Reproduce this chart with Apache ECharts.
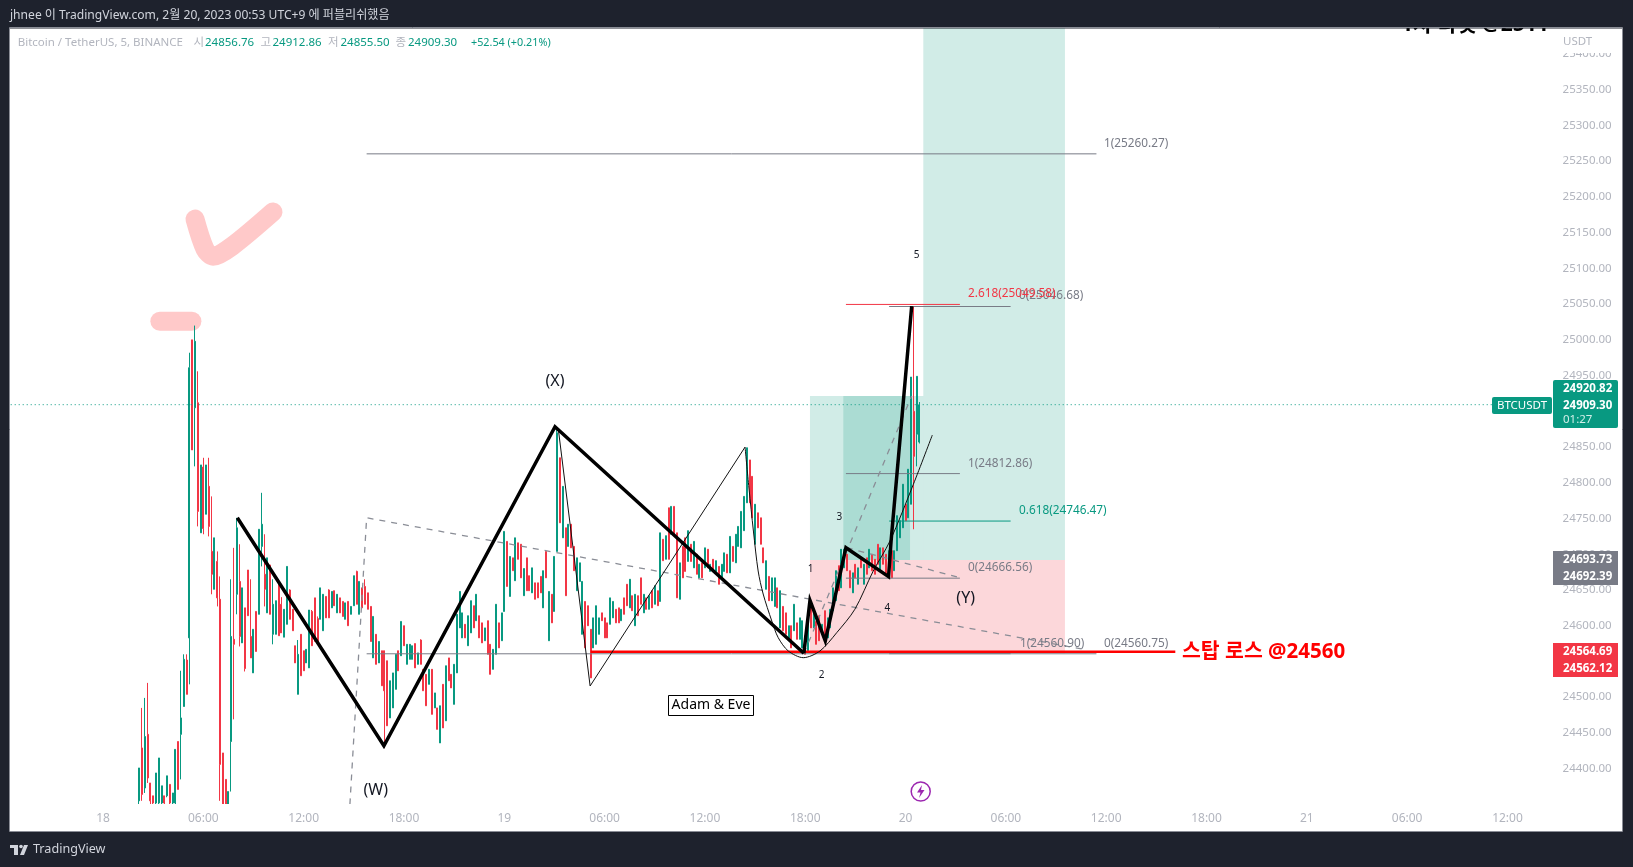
<!DOCTYPE html>
<html><head><meta charset="utf-8">
<style>html,body{margin:0;padding:0;background:#1e222d}#c{width:1633px;height:867px}</style>
<script src="https://cdn.jsdelivr.net/npm/echarts@6/dist/echarts.min.js"></script>
</head><body><div id="c"></div>
<script>
// candles: [open, close, low, high] as offset from priceBase (10-minute spacing)
const priceBase = 24000, firstBarMinute = 130, barStepMinutes = 10;
const candlesFeb18Morning = [
[355,401,350,401],[429,364,355,485],[373,445,366,499],[448,387,380,520],[380,355,350,380],[362,352,350,362],[352,394,350,394],[352,415,350,415],[352,376,350,376],[362,352,350,362],
[362,390,360,390],[378,352,350,378],[352,366,350,366],[352,427,350,427],[438,371,371,438],[448,471,385,537],[487,553,487,560],[552,504,504,560],[583,961,518,982],[1000,846,846,1000],
[905,998,823,1020],[912,760,739,956],[730,825,730,825],[822,736,728,835],[756,825,756,825],[795,739,725,835],[704,672,644,781],[651,723,651,723],[690,639,627,704],[637,406,355,669],
[422,350,350,422],[385,350,350,385],[350,368,350,368],[438,585,368,665],[581,574,469,709],[644,737,616,751],[662,585,571,714],[576,653,576,653],[625,540,536,625],[678,614,614,678],
[585,555,555,665],[534,595,534,595],[620,564,564,620],[616,735,616,735],[711,742,683,786],[672,651,627,728],[618,695,618,695],[685,616,616,685]];
const candlesFeb18Midday = [
[588,630,574,665],[588,635,588,635],[660,586,586,660],[630,590,590,640],[584,623,584,623],[602,683,602,683],[650,609,609,651],[623,593,593,623],[572,548,548,572],[504,560,504,580],
[588,530,530,588],[565,537,537,565],[548,567,548,567],[541,622,541,622],[620,572,572,622],[639,578,578,639],[610,578,578,613],[609,653,609,653],[593,644,593,644],[641,611,611,641],
[650,611,611,651],[625,648,625,648],[649,628,628,649],[618,644,618,644],[639,618,618,639],[634,613,613,634],[609,632,609,632],[634,600,600,634],[616,627,616,627],[628,670,628,670],
[676,630,630,677],[616,662,616,662],[653,625,625,653],[655,630,630,665],[646,623,623,646],[627,578,578,627],[555,613,555,613],[588,546,546,588],[548,578,548,578],[565,516,516,565],
[565,509,429,565],[551,460,460,551],[471,523,471,523],[485,534,485,534],[511,560,511,560],[565,537,537,565],[558,606,558,606],[600,572,572,600]];
const candlesFeb18Night = [
[546,574,546,574],[553,574,553,574],[553,572,553,572],[575,541,541,575],[546,562,546,562],[580,546,546,581],[539,509,509,539],[532,488,488,532],[518,539,518,539],[539,476,476,539],
[485,506,485,506],[485,455,455,485],[436,488,436,488],[518,457,457,518],[467,544,467,544],[555,523,523,555],[532,513,513,532],[490,546,490,546],[534,616,534,616],[597,648,597,648],
[583,618,583,618],[602,583,583,602],[572,614,572,614],[590,635,590,635],[628,597,597,628],[607,644,607,644],[614,583,583,614],[604,576,576,604],[579,597,579,597],[607,560,560,607],
[574,532,532,574],[539,567,539,567],[560,630,560,630],[604,569,569,604],[579,618,579,618],[620,732,620,732],[718,655,655,718],[641,697,641,697],[695,677,677,695],[663,723,663,723],
[716,693,693,716],[714,667,667,714],[642,680,642,680],[695,649,649,695],[670,649,649,670],[646,681,646,681],[660,637,637,660],[660,639,639,660]];
const candlesFeb19Morning = [
[669,646,646,669],[625,677,625,677],[704,667,667,704],[579,648,579,648],[644,604,604,644],[620,697,620,697],[704,870,704,877],[835,744,744,835],[723,795,723,795],[737,642,642,737],
[711,742,711,742],[742,709,709,742],[711,677,677,711],[649,695,649,695],[662,688,662,688],[588,662,588,662],[634,569,569,634],[628,600,600,628],[595,527,527,595],[569,611,569,611],
[574,628,574,628],[588,611,588,611],[618,607,607,618],[611,583,583,611],[604,583,583,604],[602,639,602,639],[611,634,611,634],[623,604,604,623],[625,604,604,625],[607,623,607,623],
[639,616,616,639],[658,628,628,658],[625,665,625,665],[642,621,621,642],[600,644,600,644],[642,614,614,642],[667,630,630,667],[618,644,618,644],[639,623,623,639],[623,642,623,642],
[649,625,625,649],[630,656,630,656],[649,628,628,649],[634,730,634,730],[721,691,691,721],[693,726,693,726],[765,693,693,765],[728,767,728,767]];
const candlesFeb19Afternoon = [
[767,728,728,767],[730,639,639,730],[637,688,637,688],[711,667,667,711],[723,676,676,723],[690,733,690,733],[714,690,690,714],[681,718,681,718],[700,672,672,700],[667,686,667,686],
[688,667,667,688],[681,709,681,709],[707,681,681,707],[676,686,676,686],[693,676,676,693],[676,691,676,691],[683,658,658,683],[667,686,667,686],[676,702,676,702],[700,674,674,700],
[674,725,674,725],[711,690,690,711],[688,728,688,728],[711,739,711,739],[709,760,709,760],[733,781,733,781],[772,849,772,849],[832,772,772,832],[809,751,751,809],[714,770,714,770],
[758,737,737,758],[751,714,714,751],[709,688,688,709],[651,691,651,691],[669,635,635,669],[635,667,635,667],[627,667,627,667],[653,625,625,653],[597,649,597,649],[627,593,593,627],
[618,588,588,618],[581,600,581,600],[600,569,569,600],[593,630,593,630],[604,581,581,604],[581,611,581,611],[569,607,569,607],[586,560,560,586],[565,604,565,604]];
const candlesFeb19Evening = [
[630,597,597,630],[597,623,597,623],[606,574,574,606],[614,579,579,614],[588,602,588,602],[621,579,579,621],[583,611,583,611],[597,623,597,623],[621,653,621,653],[635,677,635,677],
[684,649,649,684],[653,707,653,707],[681,707,681,707],[700,677,677,700],[677,653,653,677],[646,674,646,674],[686,667,667,686],[658,681,658,681],[695,681,681,695],[658,686,658,686],
[695,672,672,695],[681,707,681,707],[700,677,677,700],[693,672,672,693],[714,686,686,714],[679,709,679,709],[709,686,686,709],[700,672,672,700],[681,705,681,705],[705,667,667,705],
[677,705,677,705],[705,754,705,754],[723,747,723,747],[737,798,737,798],[770,747,747,770],[751,819,751,819],[770,948,770,948],[900,837,735,1047],[868,949,823,949],[857,909,855,913]];

const timeLabels = ['', '18','06:00','12:00','18:00','19','06:00','12:00','18:00','20','06:00','12:00','18:00','21','06:00','12:00'];
const xMin = -360, xMax = 5451, yMin = 24350, yMax = 25450;

// drawings, as [minute since Feb 18 00:00, price]
const waveWXY = [[482,24751],[1008,24432],[1622,24878.5],[2515,24561.4]];
const waveImpulse = [[2515,24561.4],[2537,24635.6],[2592,24578.7],[2666,24709.2],[2819,24668.6],[2828,24718.5],[2902,25047.3]];
const adamZigzag = [[1634,24874.8],[1748,24515.7],[2304,24850]];
const eveCurve = [[2304,24850],[2318,24792.7],[2334,24732.5],[2351,24676.6],[2369,24644.4],[2400,24606.6],[2423,24583.3],[2459,24564.7],[2513,24555.3],[2573,24564.7],[2633,24590.3],[2698,24623],[2764,24676.6],[2824,24718.5],[2908,24797.9],[2976,24866.8]];
const dashedWide = [[886,24350],[946,24751],[3512,24567.5]];
const dashedSteep = [[2515,24561],[2902,24921.4]];
const dashedShort = [[2669,24709.2],[3075,24667.2]];
const fibTopLine = [[946,25260.27],[3565,25260.27]];
const fibBottomLine = [[946,24560.75],[3565,24560.75]];
const fibRedLine = [[2666,25049.58],[3075,25049.58]];
const fibMidLine = [[2666,24812.86],[3075,24812.86]];
const fibLowLine = [[2666,24666.56],[3075,24666.56]];
const fibPeakLine = [[2821,25046.68],[3257,25046.68]];
const fibGreenLine = [[2821,24746.47],[3257,24746.47]];
const fibBaseLine = [[2821,24560.9],[3257,24560.9]];
const stopLine = [[1750,24563.7],[3848,24563.7]];
const lastPriceLine = [[-360,24909.3],[4984,24909.3]];
const pinkDash = [[204,25026],[319,25026]];
const pinkCheck = [[330,25169],[366,25127],[395,25117],[463,25131],[610,25179]];
// position boxes: [x0, x1, priceTop, priceBottom]
const greenBoxes = [[2943.7,3452,25450,24692],[2537,2943.7,24921.5,24692],[2656.6,2896,24921.5,24692]];
const redBoxes = [[2537,3452,24692,24561]];

const UP = '#089981', DOWN = '#f23645', GREY = '#787b86', AXIS = '#b2b5be', DARK = '#1e222d';
const FONT = '"Noto Sans","Noto Sans CJK KR",sans-serif';

const allCandles = [].concat(candlesFeb18Morning, candlesFeb18Midday, candlesFeb18Night, candlesFeb19Morning, candlesFeb19Afternoon, candlesFeb19Evening);
const candleData = allCandles.map((r, i) => [firstBarMinute + i * barStepMinutes, priceBase + r[0], priceBase + r[1], priceBase + r[2], priceBase + r[3]]);

function line(data, color, width, extra) {
  return Object.assign({ type: 'line', data, symbol: 'none', silent: true, animation: false, z: 5,
    lineStyle: Object.assign({ color, width, opacity: 1 }, extra && extra.ls) }, extra && extra.s);
}
function box(b) { return [{ xAxis: b[0], yAxis: b[2] }, { xAxis: b[1], yAxis: b[3] }]; }

const series = [
  { type: 'line', data: [], silent: true, z: 1, markArea: { silent: true, z: 1, itemStyle: { color: '#089981', opacity: 0.19 }, data: greenBoxes.map(box) } },
  { type: 'line', data: [], silent: true, z: 1, markArea: { silent: true, z: 1, itemStyle: { color: '#f23645', opacity: 0.2 }, data: redBoxes.map(box) } },
  line(fibTopLine, GREY, 1), line(fibBottomLine, GREY, 1), line(fibMidLine, GREY, 1), line(fibLowLine, GREY, 1),
  line(fibPeakLine, GREY, 1), line(fibBaseLine, GREY, 1), line(fibRedLine, DOWN, 1), line(fibGreenLine, UP, 1),
  line(lastPriceLine, UP, 1, { ls: { type: [1, 3] } }),
  line(pinkDash, '#ffc9c9', 19, { ls: { cap: 'round' }, s: { z: 2 } }),
  line(pinkCheck, '#ffc9c9', 19, { ls: { cap: 'round', join: 'round' }, s: { z: 2, smooth: 0.3 } }),
  { type: 'candlestick', data: candleData, barWidth: 1.5, z: 3, silent: true, animation: false, large: false,
    itemStyle: { color: UP, color0: DOWN, borderColor: UP, borderColor0: DOWN, borderWidth: 1 } },
  line(stopLine, '#ff0000', 2.5, { s: { z: 6 } }),
  line(dashedWide, '#8a8d96', 1.3, { ls: { type: [6, 6] } }),
  line(dashedSteep, '#8a8d96', 1.3, { ls: { type: [6, 6] } }),
  line(dashedShort, '#8a8d96', 1.3, { ls: { type: [6, 6] } }),
  line(adamZigzag, '#111', 1, { s: { z: 6 } }),
  line(eveCurve, '#111', 1, { s: { z: 6, smooth: 0.3 } }),
  line(waveWXY, '#000', 3.5, { ls: { join: 'miter' }, s: { z: 7 } }),
  line(waveImpulse, '#000', 3.5, { ls: { join: 'miter' }, s: { z: 7 } })
];

function t(x, y, text, fill, size, o) {
  o = o || {};
  return { type: 'text', z: o.z || 40, silent: true, style: { x, y: y + 1, text, fill, font: (o.bold ? 'bold ' : '') + size + 'px ' + FONT, align: o.align || 'left', verticalAlign: 'middle' } };
}
function r(x, y, w, h, fill, z, rad) { return { type: 'rect', z, silent: true, shape: { x, y: y + 1, width: w, height: h, r: rad || 0 }, style: { fill } }; }

const graphics = [
  r(10, 26, 1612, 805, '#ffffff', 0),
  t(1401, 24, '1차 타겟 @2511', '#000', 21, { z: 30, bold: true }),
  // labels of the drawings
  t(1104, 142.7, '1(25260.27)', GREY, 11.8), t(1104, 642.7, '0(24560.75)', GREY, 11.8), t(1020, 642.7, '1(24560.90)', GREY, 11.8),
  t(1019, 295, '0(25046.68)', GREY, 11.8), t(968, 292.7, '2.618(25049.58)', DOWN, 11.8),
  t(968, 462.7, '1(24812.86)', GREY, 11.8), t(1019, 510, '0.618(24746.47)', UP, 11.8), t(968, 566.7, '0(24666.56)', GREY, 11.8),
  t(1182, 651, '스탑 로스 @24560', '#ff0000', 20.5, { bold: true }),
  t(375.7, 789, '(W)', '#131722', 16, { align: 'center' }), t(555, 380, '(X)', '#131722', 16, { align: 'center' }), t(965.7, 597.7, '(Y)', '#131722', 16, { align: 'center' }),
  t(810.7, 568, '1', '#131722', 10, { align: 'center' }), t(821.7, 674, '2', '#131722', 10, { align: 'center' }), t(839.3, 516, '3', '#131722', 10, { align: 'center' }), t(887.3, 607.3, '4', '#131722', 10, { align: 'center' }), t(916.5, 254, '5', '#131722', 10, { align: 'center' }),
  { type: 'rect', z: 41, silent: true, shape: { x: 668.5, y: 695.5, width: 85, height: 20 }, style: { fill: '#fff', stroke: '#000', lineWidth: 1 } },
  t(711, 704.5, 'Adam & Eve', '#000', 14, { z: 42, align: 'center' }),
  // bottom strip of the plot, USDT cell
  r(10, 803, 1612, 28, '#ffffff', 20),
  r(1555, 27, 66, 25, '#ffffff', 60),
  t(1563, 41, 'USDT', AXIS, 11.5, { z: 61 }),
  // lightning marker
  { type: 'circle', z: 60, silent: true, shape: { cx: 920.7, cy: 791.5, r: 9.5 }, style: { fill: '#fff', stroke: '#9c27b0', lineWidth: 1.5 } },
  { type: 'polygon', z: 61, silent: true, shape: { points: [[922, 785], [917, 792.5], [920.5, 792.5], [919, 798], [924.5, 790], [921, 790]] }, style: { fill: '#9c27b0' } },
  // price tags
  r(1492, 396, 60, 17, UP, 100, 2), t(1522, 404.5, 'BTCUSDT', '#fff', 11.5, { z: 101, align: 'center' }),
  r(1553, 379, 65, 48, UP, 100, 2), t(1563, 387.7, '24920.82', '#fff', 11.5, { z: 101, bold: true }), t(1563, 404.7, '24909.30', '#fff', 11.5, { z: 101, bold: true }), t(1563, 418.7, '01:27', '#d1efe8', 11.5, { z: 101 }),
  r(1553, 550, 65, 34, GREY, 100), t(1563, 558.7, '24693.73', '#fff', 11.5, { z: 101, bold: true }), t(1563, 575.7, '24692.39', '#fff', 11.5, { z: 101, bold: true }),
  r(1553, 642, 65, 34, DOWN, 100), t(1563, 650.7, '24564.69', '#fff', 11.5, { z: 101, bold: true }), t(1563, 667.7, '24562.12', '#fff', 11.5, { z: 101, bold: true }),
  // dark surroundings
  r(0, -1, 1633, 28.5, DARK, 200), r(0, 830.5, 1633, 36, DARK, 200), r(0, -1, 9.5, 868, DARK, 200), r(1622.5, -1, 10.5, 868, DARK, 200),
  { type: 'rect', z: 201, silent: true, shape: { x: 9.5, y: 27.5, width: 1613, height: 804 }, style: { fill: 'none', stroke: '#8a8d96', lineWidth: 1 } },
  t(10, 14.5, 'jhnee 이 TradingView.com, 2월 20, 2023 00:53 UTC+9 에 퍼블리쉬했음', '#d1d4dc', 12.1, { z: 202 }),
  // legend
  t(17.7, 41.5, 'Bitcoin / TetherUS, 5, BINANCE', AXIS, 11.5, { z: 202 }),
  t(193.5, 41.5, '시', AXIS, 11.5, { z: 202 }), t(205, 41.5, '24856.76', UP, 11.5, { z: 202 }),
  t(260.5, 41.5, '고', AXIS, 11.5, { z: 202 }), t(272.5, 41.5, '24912.86', UP, 11.5, { z: 202 }),
  t(328, 41.5, '저', AXIS, 11.5, { z: 202 }), t(340.5, 41.5, '24855.50', UP, 11.5, { z: 202 }),
  t(395.5, 41.5, '종', AXIS, 11.5, { z: 202 }), t(408, 41.5, '24909.30', UP, 11.5, { z: 202 }),
  t(471, 41.5, '+52.54 (+0.21%)', UP, 10.8, { z: 202 }),
  // footer logo
  r(10, 844, 8, 3, '#d1d4dc', 202), r(14, 844, 4, 10, '#d1d4dc', 202),
  { type: 'circle', z: 202, silent: true, shape: { cx: 21, cy: 846.5, r: 1.8 }, style: { fill: '#d1d4dc' } },
  { type: 'polygon', z: 202, silent: true, shape: { points: [[24, 845], [28, 845], [24, 855], [20, 855]] }, style: { fill: '#d1d4dc' } },
  t(33, 848, 'TradingView', '#d1d4dc', 12.6, { z: 202 })
];

const chart = echarts.init(document.getElementById('c'), null, { renderer: 'canvas', width: 1633, height: 867 });
chart.setOption({
  animation: false, backgroundColor: DARK,
  grid: { left: 2.7, right: 11, top: 18.26, bottom: 62.6, containLabel: false },
  xAxis: { type: 'value', min: xMin, max: xMax, interval: 360, z: 50,
    axisLine: { show: false }, axisTick: { show: false }, splitLine: { show: false },
    axisLabel: { color: AXIS, fontSize: 12, fontFamily: FONT, margin: 8, showMinLabel: false, showMaxLabel: false,
      hideOverlap: false,
      formatter: v => timeLabels[(v - xMin) / 360] || '' } },
  yAxis: { type: 'value', position: 'right', min: yMin, max: yMax, interval: 50, z: 50,
    axisLine: { show: false }, axisTick: { show: false }, splitLine: { show: false },
    axisLabel: { inside: true, margin: 10.3, color: AXIS, fontSize: 11.5, fontFamily: FONT, showMinLabel: false, showMaxLabel: false,
      formatter: v => (v < 24400 || v > 25400) ? '' : v.toFixed(2) } },
  graphic: { elements: graphics },
  series
});
</script></body></html>
